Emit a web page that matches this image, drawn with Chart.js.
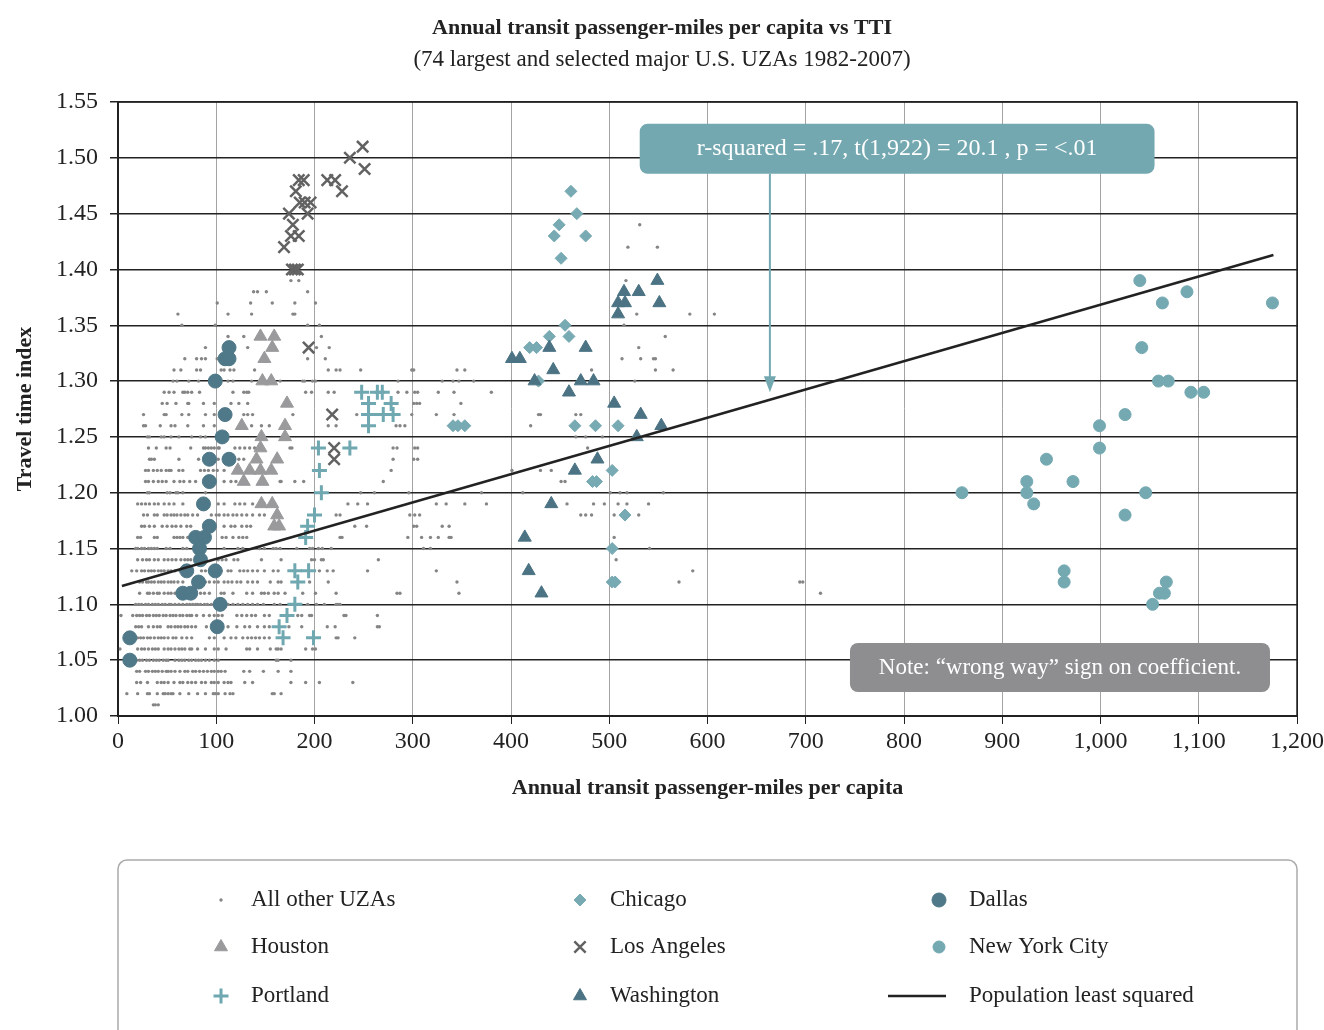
<!DOCTYPE html>
<html>
<head>
<meta charset="utf-8">
<script src="https://cdn.jsdelivr.net/npm/chart.js@4.4.1/dist/chart.umd.min.js"></script>
<style>
  html, body { margin: 0; padding: 0; background: #fff; }
  #wrap { width: 1324px; height: 1030px; position: relative; }
</style>
</head>
<body>
<div id="wrap"><canvas id="chart"></canvas></div>
<script>
const xTicks = [0, 100, 200, 300, 400, 500, 600, 700, 800, 900, 1000, 1100, 1200];
const yTicks = [1.00, 1.05, 1.10, 1.15, 1.20, 1.25, 1.30, 1.35, 1.40, 1.45, 1.50, 1.55];

// all other UZAs, one row per TTI value: [tti, [passenger-miles...]]
const otherRows = [
  [1.44, [531]],
  [1.42, [519, 549]],
  [1.39, [176, 184, 517]],
  [1.38, [138, 142, 151, 193]],
  [1.37, [101, 135, 157, 180, 201]],
  [1.36, [61, 112, 136, 178, 180, 528, 582, 607]],
  [1.35, [65, 99, 193, 205, 515]],
  [1.34, [112, 128, 207, 557]],
  [1.33, [89, 132, 202, 215, 530]],
  [1.32, [68, 80, 85, 89, 101, 193, 211, 513, 532, 545, 547]],
  [1.31, [57, 64, 80, 84, 105, 108, 114, 118, 139, 214, 222, 226, 247, 299, 301, 345, 353, 482, 547, 565]],
  [1.30, [56, 60, 72, 82, 112, 117, 136, 165, 188, 190, 198, 201, 285, 330, 341, 347, 362, 526]],
  [1.29, [47, 52, 57, 66, 68, 71, 75, 83, 117, 128, 131, 133, 191, 197, 214, 220, 285, 294, 302, 305, 326, 342, 380]],
  [1.28, [45, 50, 59, 71, 72, 87, 98, 115, 123, 132, 301, 304, 307, 349]],
  [1.27, [26, 47, 49, 65, 72, 89, 98, 128, 132, 137, 178, 243, 299, 324, 342, 428, 430, 466, 471]],
  [1.26, [26, 28, 43, 54, 58, 71, 87, 98, 136, 146, 154, 214, 222, 283, 287, 292, 420]],
  [1.25, [30, 32, 44, 47, 54, 62, 75, 84, 89, 466, 476, 493]],
  [1.24, [31, 39, 49, 53, 74, 87, 89, 92, 95, 98, 102, 103, 119, 124, 129, 134, 139, 175, 177, 280, 284, 302, 305, 478]],
  [1.23, [32, 34, 37, 62, 82, 102, 118, 123, 128, 280, 301, 305]],
  [1.22, [28, 31, 36, 40, 44, 49, 52, 54, 62, 66, 84, 88, 92, 97, 101, 108, 278, 401, 430, 441]],
  [1.21, [28, 31, 36, 41, 45, 49, 57, 63, 67, 73, 79, 108, 115, 120, 165, 166, 180, 189, 270, 451, 455]],
  [1.20, [30, 32, 50, 53, 59, 61, 66, 89, 247, 261, 296, 370, 412, 501, 511, 518, 555]],
  [1.19, [20, 24, 28, 32, 37, 41, 47, 52, 57, 66, 102, 108, 119, 124, 129, 137, 149, 234, 244, 254, 324, 334, 353, 375, 457, 484, 495, 509, 518, 540]],
  [1.18, [26, 30, 37, 40, 47, 50, 54, 57, 60, 64, 68, 71, 76, 81, 95, 100, 103, 108, 112, 117, 121, 126, 131, 137, 144, 149, 222, 226, 297, 302, 307, 471, 476, 482, 505, 530]],
  [1.17, [24, 27, 32, 37, 45, 50, 55, 59, 64, 70, 74, 108, 115, 119, 126, 131, 135, 241, 253, 301, 304, 330, 337]],
  [1.16, [20, 23, 37, 40, 57, 60, 63, 66, 71, 106, 110, 117, 123, 127, 131, 226, 228, 295, 309, 318, 326, 337, 339, 505]],
  [1.15, [18, 20, 24, 27, 31, 34, 37, 40, 49, 53, 66, 70, 108, 122, 127, 144, 149, 158, 161, 165, 182, 195, 198, 204, 208, 217, 311, 318, 541]],
  [1.14, [20, 25, 29, 32, 37, 41, 47, 51, 55, 59, 64, 68, 71, 74, 102, 106, 110, 118, 122, 146, 166, 197, 200, 207, 209, 265, 507]],
  [1.13, [14, 19, 24, 27, 31, 34, 37, 41, 44, 47, 51, 54, 58, 63, 66, 85, 89, 93, 98, 105, 112, 115, 124, 128, 132, 137, 142, 149, 158, 163, 205, 213, 219, 254, 324, 585]],
  [1.12, [22, 25, 29, 31, 34, 37, 41, 44, 47, 51, 54, 57, 61, 66, 89, 93, 98, 102, 108, 112, 116, 121, 125, 132, 137, 142, 155, 163, 166, 195, 214, 345, 571, 694, 697]],
  [1.11, [22, 30, 32, 36, 40, 42, 47, 51, 54, 58, 84, 88, 93, 105, 108, 117, 131, 137, 146, 149, 153, 159, 163, 170, 188, 201, 222, 284, 287, 347, 715]],
  [1.10, [18, 21, 24, 28, 31, 35, 38, 41, 45, 48, 52, 54, 58, 62, 66, 70, 73, 76, 79, 81, 84, 88, 91, 95, 112, 117, 122, 127, 132, 137, 142, 148, 159, 165, 193, 202, 210, 222, 224, 226]],
  [1.09, [3, 15, 19, 22, 25, 29, 32, 36, 39, 42, 46, 49, 53, 56, 59, 63, 66, 70, 73, 75, 80, 87, 93, 98, 102, 106, 121, 126, 131, 136, 140, 149, 154, 183, 187, 195, 197, 230, 232, 264]],
  [1.08, [18, 21, 24, 31, 36, 40, 43, 51, 54, 58, 61, 64, 68, 71, 75, 79, 90, 96, 112, 121, 129, 134, 142, 149, 154, 174, 187, 213, 221, 264, 266]],
  [1.07, [20, 23, 26, 30, 33, 37, 41, 44, 47, 51, 56, 59, 65, 70, 75, 93, 98, 108, 115, 120, 127, 132, 136, 140, 144, 149, 154, 222, 224, 241]],
  [1.06, [2, 20, 24, 27, 31, 35, 38, 41, 47, 51, 54, 58, 62, 65, 68, 73, 75, 81, 89, 98, 102, 110, 131, 134, 142, 155, 161, 163, 166, 191, 198, 201]],
  [1.05, [19, 22, 25, 29, 32, 36, 39, 42, 46, 49, 51, 58, 62, 65, 68, 72, 75, 79, 82, 85, 89, 93, 98, 102, 161, 163, 176]],
  [1.04, [19, 22, 28, 31, 35, 38, 41, 45, 49, 51, 54, 58, 63, 68, 71, 76, 79, 83, 87, 91, 95, 98, 102, 105, 109, 128, 134, 148, 163, 176]],
  [1.03, [19, 23, 30, 40, 44, 47, 51, 57, 63, 66, 71, 75, 79, 85, 89, 95, 98, 102, 108, 112, 115, 129, 137, 176, 191, 205, 239]],
  [1.02, [9, 20, 30, 32, 40, 46, 48, 51, 54, 56, 63, 72, 81, 89, 97, 99, 102, 109, 114, 117, 157, 159, 166]],
  [1.01, [36, 38, 41]]
];

const chicago = [[461, 1.47], [467, 1.45], [449, 1.44], [444, 1.43], [476, 1.43], [451, 1.41],
  [455, 1.35], [439, 1.34], [459, 1.34], [419, 1.33], [426, 1.33], [428, 1.30],
  [341, 1.26], [346, 1.26], [353, 1.26], [465, 1.26], [486, 1.26], [509, 1.26],
  [503, 1.22], [483, 1.21], [487, 1.21], [516, 1.18], [503, 1.15], [503, 1.12], [506, 1.12]];

const dallas = [[113, 1.33], [109, 1.32], [113, 1.32], [99, 1.30], [109, 1.27], [106, 1.25],
  [93, 1.23], [113, 1.23], [93, 1.21], [87, 1.19], [93, 1.17], [79, 1.16], [88, 1.16],
  [83, 1.15], [84, 1.14], [70, 1.13], [99, 1.13], [82, 1.12], [66, 1.11], [74, 1.11],
  [104, 1.10], [101, 1.08], [12, 1.07], [12, 1.05]];

const houston = [[145, 1.34], [159, 1.34], [157, 1.33], [149, 1.32], [147, 1.30], [156, 1.30],
  [172, 1.28], [126, 1.26], [170, 1.26], [146, 1.25], [170, 1.25], [145, 1.24], [141, 1.23],
  [162, 1.23], [122, 1.22], [134, 1.22], [145, 1.22], [156, 1.22], [128, 1.21], [147, 1.21],
  [146, 1.19], [157, 1.19], [162, 1.18], [159, 1.17], [164, 1.17]];

const losAngeles = [[249, 1.51], [236, 1.50], [251, 1.49], [184, 1.48], [189, 1.48], [213, 1.48],
  [221, 1.48], [181, 1.47], [228, 1.47], [185, 1.46], [190, 1.46], [196, 1.46], [174, 1.45],
  [193, 1.45], [178, 1.44], [176, 1.43], [184, 1.43], [169, 1.42], [177, 1.40], [180, 1.40],
  [183, 1.40], [194, 1.33], [218, 1.27], [220, 1.24], [220, 1.23]];

const newYork = [[1040, 1.39], [1088, 1.38], [1063, 1.37], [1175, 1.37], [1042, 1.33], [1059, 1.30],
  [1069, 1.30], [1092, 1.29], [1105, 1.29], [1025, 1.27], [999, 1.26], [999, 1.24], [945, 1.23],
  [925, 1.21], [972, 1.21], [859, 1.20], [925, 1.20], [1046, 1.20], [932, 1.19], [1025, 1.18],
  [963, 1.13], [963, 1.12], [1067, 1.12], [1060, 1.11], [1065, 1.11], [1053, 1.10]];

const portland = [[248, 1.29], [264, 1.29], [269, 1.29], [255, 1.28], [278, 1.28], [255, 1.27],
  [270, 1.27], [280, 1.27], [255, 1.26], [204, 1.24], [236, 1.24], [205, 1.22], [207, 1.20],
  [200, 1.18], [193, 1.17], [191, 1.16], [180, 1.13], [194, 1.13], [183, 1.12], [180, 1.10],
  [172, 1.09], [164, 1.08], [168, 1.07], [199, 1.07]];

const washington = [[549, 1.39], [515, 1.38], [530, 1.38], [509, 1.37], [516, 1.37], [551, 1.37],
  [509, 1.36], [439, 1.33], [476, 1.33], [401, 1.32], [409, 1.32], [443, 1.31], [424, 1.30],
  [471, 1.30], [484, 1.30], [459, 1.29], [505, 1.28], [532, 1.27], [553, 1.26], [528, 1.25],
  [488, 1.23], [465, 1.22], [441, 1.19], [414, 1.16], [418, 1.13], [431, 1.11]];

// population least squares fit, end points
const fitLine = [[4, 1.1165], [1176, 1.413]];

const SERIF = '"Liberation Serif", "DejaVu Serif", serif';
const INK = "#222";

function pts(list) {
  return list.map(([x, y]) => ({ x, y }));
}

const otherPoints = [];
otherRows.forEach(([tti, xs]) => xs.forEach((x) => otherPoints.push({ x, y: tti })));

const datasets = [
  { label: "All other UZAs", data: otherPoints, pointStyle: "circle", pointRadius: 1.7,
    backgroundColor: "#858585", borderColor: "#858585", borderWidth: 0, order: 9 },
  { label: "Chicago", data: pts(chicago), pointStyle: "rectRot", pointRadius: 6,
    backgroundColor: "#78aab3", borderColor: "#78aab3", borderWidth: 1, order: 3 },
  { label: "Dallas", data: pts(dallas), pointStyle: "circle", pointRadius: 7,
    backgroundColor: "#4f7888", borderColor: "#4f7888", borderWidth: 1, order: 4 },
  { label: "Houston", data: pts(houston), pointStyle: "triangle", pointRadius: 7.5,
    backgroundColor: "#9a9a9d", borderColor: "#9a9a9d", borderWidth: 1, order: 6 },
  { label: "Los Angeles", data: pts(losAngeles), pointStyle: "crossRot", pointRadius: 8,
    backgroundColor: "#626262", borderColor: "#626262", borderWidth: 2.5, order: 5 },
  { label: "New York City", data: pts(newYork), pointStyle: "circle", pointRadius: 6,
    backgroundColor: "#74a9b2", borderColor: "#74a9b2", borderWidth: 1, order: 3 },
  { label: "Portland", data: pts(portland), pointStyle: "cross", pointRadius: 7.5,
    backgroundColor: "#6fa8b1", borderColor: "#6fa8b1", borderWidth: 3, order: 2 },
  { label: "Washington", data: pts(washington), pointStyle: "triangle", pointRadius: 7.5,
    backgroundColor: "#4b7383", borderColor: "#4b7383", borderWidth: 1, order: 2 },
  { label: "Population least squared", type: "line", data: pts(fitLine), borderColor: INK,
    backgroundColor: INK, borderWidth: 2.5, pointRadius: 0, showLine: true, fill: false, order: 0 }
];

function roundRect(ctx, x, y, w, h, r) {
  ctx.beginPath();
  ctx.moveTo(x + r, y);
  ctx.arcTo(x + w, y, x + w, y + h, r);
  ctx.arcTo(x + w, y + h, x, y + h, r);
  ctx.arcTo(x, y + h, x, y, r);
  ctx.arcTo(x, y, x + w, y, r);
  ctx.closePath();
}

const decor = {
  id: "decor",
  beforeDraw(chart) {
    const ctx = chart.ctx;
    ctx.save();
    ctx.fillStyle = "#fff";
    ctx.fillRect(0, 0, chart.width, chart.height);
    ctx.restore();
  },
  afterDraw(chart) {
    const ctx = chart.ctx;
    const area = chart.chartArea;
    const xs = chart.scales.x;
    const ys = chart.scales.y;
    ctx.save();

    // plot frame
    ctx.strokeStyle = INK;
    ctx.lineWidth = 1.5;
    ctx.strokeRect(area.left, area.top, area.right - area.left, area.bottom - area.top);

    // titles
    ctx.fillStyle = INK;
    ctx.textAlign = "center";
    ctx.textBaseline = "middle";
    ctx.font = "bold 22px " + SERIF;
    ctx.fillText("Annual transit passenger-miles per capita vs TTI", chart.width / 2, 28);
    ctx.font = "23px " + SERIF;
    ctx.fillText("(74 largest and selected major U.S. UZAs 1982-2007)", chart.width / 2, 60);

    // r-squared callout and arrow
    const teal = "#73a8b1";
    const bx1 = xs.getPixelForValue(531), bx2 = xs.getPixelForValue(1055);
    const by1 = ys.getPixelForValue(1.5305), by2 = ys.getPixelForValue(1.4857);
    const ax = xs.getPixelForValue(663.5), ay = ys.getPixelForValue(1.29);
    ctx.strokeStyle = teal;
    ctx.lineWidth = 2;
    ctx.beginPath();
    ctx.moveTo(ax, by2);
    ctx.lineTo(ax, ay - 12);
    ctx.stroke();
    ctx.fillStyle = teal;
    ctx.beginPath();
    ctx.moveTo(ax - 6, ay - 16);
    ctx.lineTo(ax + 6, ay - 16);
    ctx.lineTo(ax, ay);
    ctx.closePath();
    ctx.fill();
    roundRect(ctx, bx1, by1, bx2 - bx1, by2 - by1, 8);
    ctx.fill();
    ctx.fillStyle = "#fff";
    ctx.font = "24px " + SERIF;
    ctx.fillText("r-squared = .17, t(1,922) = 20.1 , p = <.01", (bx1 + bx2) / 2, (by1 + by2) / 2);

    // note box
    const nx1 = xs.getPixelForValue(745), nx2 = xs.getPixelForValue(1172.5);
    const ny1 = ys.getPixelForValue(1.0654), ny2 = ys.getPixelForValue(1.0215);
    ctx.fillStyle = "#8e8e91";
    roundRect(ctx, nx1, ny1, nx2 - nx1, ny2 - ny1, 8);
    ctx.fill();
    ctx.fillStyle = "#fff";
    ctx.font = "23px " + SERIF;
    ctx.fillText("Note: \u201cwrong way\u201d sign on coefficient.", (nx1 + nx2) / 2, (ny1 + ny2) / 2);

    // legend
    ctx.strokeStyle = "#aaa";
    ctx.lineWidth = 1.5;
    roundRect(ctx, area.left, 860, area.right - area.left, 200, 9);
    ctx.stroke();
    const colX = [221, 580, 939];
    const rowY = [900, 947, 996];
    ctx.textAlign = "left";
    ctx.font = "23px " + SERIF;
    chart.data.datasets.forEach((ds, i) => {
      const cx = colX[i % 3];
      const cy = rowY[Math.floor(i / 3)];
      ctx.fillStyle = ds.backgroundColor;
      ctx.strokeStyle = ds.borderColor;
      if (ds.type === "line") {
        ctx.lineWidth = 2.5;
        ctx.beginPath();
        ctx.moveTo(cx - 51, cy);
        ctx.lineTo(cx + 7, cy);
        ctx.stroke();
      } else {
        ctx.lineWidth = ds.borderWidth;
        Chart.helpers.drawPoint(ctx, {
          pointStyle: ds.pointStyle,
          radius: ds.pointRadius,
          borderWidth: ds.borderWidth,
          rotation: 0
        }, cx, cy);
      }
      ctx.fillStyle = INK;
      ctx.fillText(ds.label, cx + 30, cy);
    });
    ctx.restore();
  }
};

new Chart(document.getElementById("chart"), {
  type: "scatter",
  data: { datasets },
  options: {
    responsive: true,
    maintainAspectRatio: false,
    animation: false,
    layout: { padding: { left: 0, right: 27, top: 102, bottom: 224 } },
    plugins: {
      legend: { display: false },
      tooltip: { enabled: false }
    },
    scales: {
      x: {
        type: "linear",
        min: xTicks[0],
        max: xTicks[xTicks.length - 1],
        afterBuildTicks: (s) => { s.ticks = xTicks.map((v) => ({ value: v })); },
        afterFit: (s) => { s.height = 90; s.paddingLeft = 0; s.paddingRight = 0; },
        grid: {
          color: (c) => (c.tick && (c.tick.value === 0 || c.tick.value === 1200) ? INK : "#a3a3a3"),
          lineWidth: 1,
          tickLength: 8,
          tickColor: INK
        },
        border: { color: INK, width: 2 },
        ticks: {
          color: INK,
          padding: 3,
          maxRotation: 0,
          font: { family: SERIF, size: 24 },
          callback: (v) => v.toLocaleString("en-US")
        },
        title: {
          display: true,
          text: "Annual transit passenger-miles per capita",
          color: INK,
          font: { family: SERIF, size: 22, weight: "bold" },
          padding: { top: 0, bottom: 4 }
        }
      },
      y: {
        type: "linear",
        min: yTicks[0],
        max: yTicks[yTicks.length - 1],
        afterBuildTicks: (s) => { s.ticks = yTicks.map((v) => ({ value: v })); },
        afterFit: (s) => { s.width = 118; },
        grid: { color: INK, lineWidth: 1.5, tickLength: 8, tickColor: INK },
        border: { color: INK, width: 2 },
        ticks: {
          color: INK,
          padding: 12,
          font: { family: SERIF, size: 24 },
          callback: (v) => Number(v).toFixed(2)
        },
        title: {
          display: true,
          text: "Travel time index",
          color: INK,
          font: { family: SERIF, size: 22, weight: "bold" },
          padding: { top: 12, bottom: 0 }
        }
      }
    }
  },
  plugins: [decor]
});
</script>
</body>
</html>
